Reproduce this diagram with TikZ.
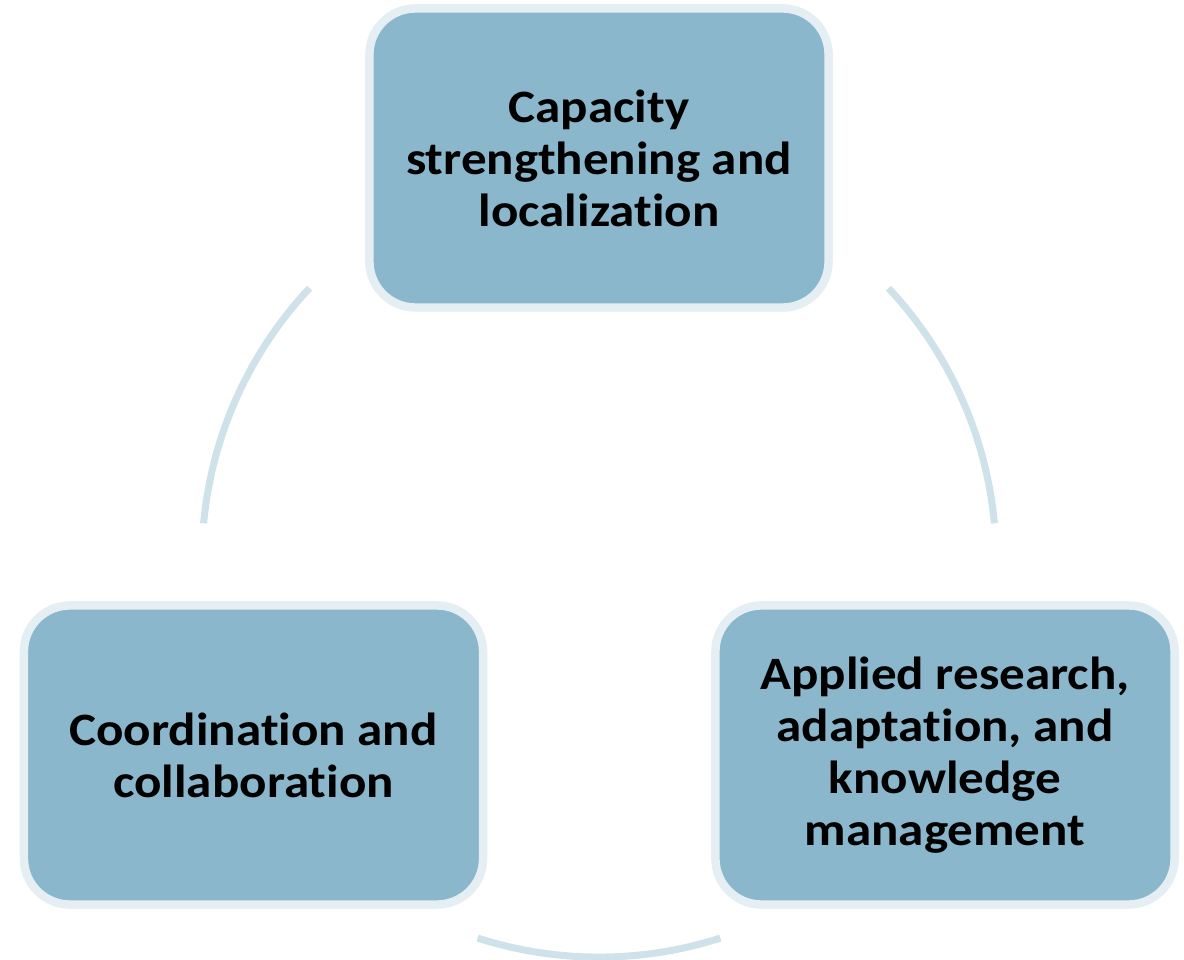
\documentclass[tikz,border=0pt]{standalone}
\usepackage{fontspec}
\setmainfont[Ligatures=NoCommon, FakeStretch=1.1]{Carlito}
\definecolor{boxfill}{HTML}{8AB7CC}
\definecolor{halo}{HTML}{E4EEF3}
\definecolor{ring}{HTML}{CFE2EA}
\tikzset{
  pillar/.style={draw=halo, line width=6pt, fill=boxfill, rounded corners=1.15cm,
    minimum width=11.475cm, minimum height=7.475cm, align=center,
    font=\fontsize{33}{37}\selectfont\bfseries},
  link/.style={draw=ring, line width=5pt}
}
\begin{document}
\begin{tikzpicture}[x=0.025cm, y=0.025cm]
        \useasboundingbox (0,0) rectangle (1184,960);
        % hub of the ring
        \coordinate (hub) at (599,400);
        \node[pillar] (capacity) at (599,802) {Capacity\\strengthening and\\localization};
        \node[pillar] (coord) at (253.5,205) {Coordination and\\collaboration};
        \node[pillar] (research) at (945,205) {Applied research,\\adaptation, and\\knowledge\\management};
        % arcs between the boxes
        \draw[link] ([shift={(5.3:9.925cm)}]hub) arc[start angle=5.3, end angle=43.2, radius=9.925cm];
        \draw[link] ([shift={(136.8:9.925cm)}]hub) arc[start angle=136.8, end angle=174.7, radius=9.925cm];
        \draw[link] ([shift={(-107.8:9.925cm)}]hub) arc[start angle=-107.8, end angle=-72.2, radius=9.925cm];
    \end{tikzpicture}
\end{document}
